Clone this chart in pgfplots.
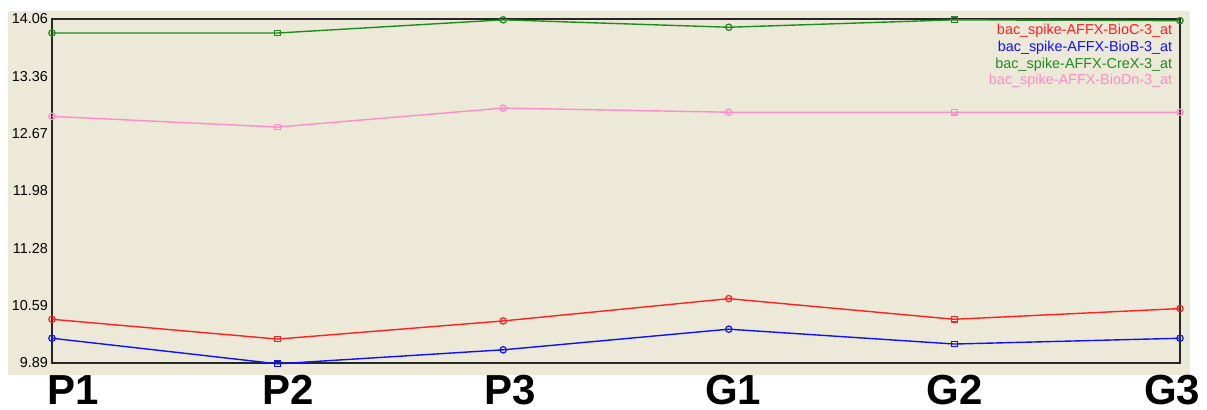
\documentclass[border=0pt]{standalone}
\usepackage{pgfplots}
\pgfplotsset{compat=1.18}
\usepackage{fontspec}
\setmainfont{Liberation Sans}
\definecolor{bg}{HTML}{ECE9D8}
\definecolor{cred}{HTML}{FF2020}
\definecolor{cblue}{HTML}{1010FF}
\definecolor{cgreen}{HTML}{1E8C1E}
\definecolor{cpink}{HTML}{FF8CC8}
\begin{document}
\begin{tikzpicture}
\path[use as bounding box] (-26pt,-23pt) rectangle (577.5pt,181.5pt);
\fill[bg] (-22pt,-6pt) rectangle (569pt,176pt);
\begin{axis}[
  at={(0,0)}, anchor=south west,
  scale only axis, width=564pt, height=172pt,
  xmin=0, xmax=5, ymin=9.89, ymax=14.06,
  xtick={0.093,1.046,2.03,3.02,4.0,4.965},
  xticklabels={P1,P2,P3,G1,G2,G3},
  ytick={9.89,10.59,11.28,11.98,12.67,13.36,14.06},
  yticklabels={9.89,10.59,11.28,11.98,12.67,13.36,14.06},
  major tick length=0pt,
  axis line style={line width=0.8pt, black!85},
  x tick label style={font=\fontsize{21}{21}\selectfont\bfseries, inner sep=0pt, yshift=-6pt},
  y tick label style={font=\fontsize{7.2}{8}\selectfont, xshift=1.5pt},
  clip=false,
  every axis plot/.append style={line width=0.7pt, mark size=1.6pt, mark options={solid, line width=0.6pt}},
]
% red
\addplot[cred, mark=o, mark indices={1,3,4,6}] coordinates {(0,10.42) (1,10.18) (2,10.40) (3,10.67) (4,10.42) (5,10.55)};
\addplot[cred, only marks, mark=square, mark size=1.4pt, mark indices={2,5}, forget plot] coordinates {(0,10.42) (1,10.18) (2,10.40) (3,10.67) (4,10.42) (5,10.55)};
% blue
\addplot[cblue, mark=o, mark indices={1,3,4,6}] coordinates {(0,10.19) (1,9.88) (2,10.05) (3,10.30) (4,10.12) (5,10.19)};
\addplot[cblue, only marks, mark=square, mark size=1.4pt, mark indices={2,5}, forget plot] coordinates {(0,10.19) (1,9.88) (2,10.05) (3,10.30) (4,10.12) (5,10.19)};
% green
\addplot[cgreen, mark=o, mark indices={1,3,4,6}] coordinates {(0,13.89) (1,13.89) (2,14.05) (3,13.96) (4,14.05) (5,14.04)};
\addplot[cgreen, only marks, mark=square, mark size=1.4pt, mark indices={2,5}, forget plot] coordinates {(0,13.89) (1,13.89) (2,14.05) (3,13.96) (4,14.05) (5,14.04)};
% pink
\addplot[cpink, mark=o, mark indices={1,3,4,6}] coordinates {(0,12.88) (1,12.75) (2,12.98) (3,12.93) (4,12.93) (5,12.93)};
\addplot[cpink, only marks, mark=square, mark size=1.4pt, mark indices={2,5}, forget plot] coordinates {(0,12.88) (1,12.75) (2,12.98) (3,12.93) (4,12.93) (5,12.93)};
\node[anchor=north east, align=right, inner sep=0pt, font=\fontsize{7.2}{8.3}\selectfont] at (rel axis cs:0.9935,0.985)
  {\textcolor{cred}{bac\_spike-AFFX-BioC-3\_at}\\
   \textcolor{cblue}{bac\_spike-AFFX-BioB-3\_at}\\
   \textcolor{cgreen}{bac\_spike-AFFX-CreX-3\_at}\\
   \textcolor{cpink}{bac\_spike-AFFX-BioDn-3\_at}};
\end{axis}
\end{tikzpicture}
\end{document}
